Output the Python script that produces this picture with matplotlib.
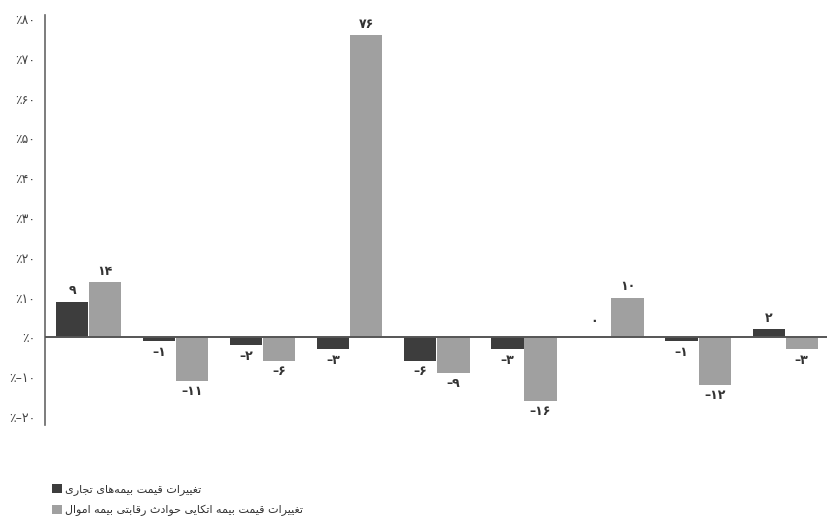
import unicodedata
import numpy as np
import matplotlib
matplotlib.use("Agg")
import matplotlib.pyplot as plt

# ---- data ----
groups = list(range(9))
commercial = [9, -1, -2, -3, -6, -3, 0, -1, 2]
property_ins = [14, -11, -6, 76, -9, -16, 10, -12, -3]
yticks = [-20, -10, 0, 10, 20, 30, 40, 50, 60, 70, 80]
legend_labels = ["تغییرات قیمت بیمه‌های تجاری",
                 "تغییرات قیمت بیمه اتکایی حوادث رقابتی بیمه اموال"]

FA_DIGITS = str.maketrans("0123456789", "۰۱۲۳۴۵۶۷۸۹")


def fa_num(v):
    s = str(abs(v)).translate(FA_DIGITS)
    return ("–" + s) if v < 0 else s


RIGHT_JOIN = set("اآأإدذرزژوؤة")


def is_letter(c):
    return "\u0620" <= c <= "\u06FF" and unicodedata.category(c) == "Lo"


def shape(text):
    out = []
    chars = list(text)
    n = len(chars)
    for i, c in enumerate(chars):
        if c == "\u200c":
            continue
        if not is_letter(c):
            out.append(c)
            continue
        prev = chars[i - 1] if i > 0 else None
        nxt = chars[i + 1] if i < n - 1 else None
        jp = prev is not None and is_letter(prev) and prev not in RIGHT_JOIN
        jn = c not in RIGHT_JOIN and nxt is not None and is_letter(nxt)
        form = {(True, True): "MEDIAL", (True, False): "FINAL",
                (False, True): "INITIAL", (False, False): "ISOLATED"}[(jp, jn)]
        name = unicodedata.name(c)
        try:
            out.append(unicodedata.lookup(f"{name} {form} FORM"))
        except KeyError:
            try:
                out.append(unicodedata.lookup(f"{name} ISOLATED FORM"))
            except KeyError:
                out.append(c)
    return "".join(reversed(out))


plt.rcParams["font.family"] = ["DejaVu Sans"]

fig = plt.figure(figsize=(8.27, 5.2), dpi=100)
ax = fig.add_axes([45 / 827, 1 - 425 / 520, 1 - 45 / 827, 410 / 520])

x = np.array(groups, dtype=float)
w = 0.37
dark = "#3d3d3d"
light = "#a0a0a0"
b1 = ax.bar(x - w / 2 - 0.005, commercial, w, color=dark, label=shape(legend_labels[0]))
b2 = ax.bar(x + w / 2 + 0.005, property_ins, w, color=light, label=shape(legend_labels[1]))

for bars, vals in ((b1, commercial), (b2, property_ins)):
    for rect, v in zip(bars, vals):
        cx = rect.get_x() + rect.get_width() / 2
        if v > 0:
            off, va = (0, 3), "bottom"
        elif v < 0:
            off, va = (0, -3), "top"
        else:
            off, va = (0, 7), "bottom"
        ax.annotate(fa_num(v), (cx, v), xytext=off, textcoords="offset points",
                    ha="center", va=va, fontsize=9, color="#333333", fontweight="bold")

ax.axhline(0, color="#555555", lw=1.4, zorder=3)
ax.set_xlim(-0.5, 8.48)
ax.set_ylim(-22, 81)
ax.set_yticks(yticks)
ax.set_yticklabels(["٪" + fa_num(t) for t in yticks], fontsize=9, color="#444444")
ax.tick_params(axis="y", length=0, pad=7)
ax.set_xticks([])
for s in ("top", "right", "bottom"):
    ax.spines[s].set_visible(False)
ax.spines["left"].set_color("#666666")
ax.spines["left"].set_linewidth(1.2)

fig.legend(handles=[b1, b2], loc="upper left", bbox_to_anchor=(42 / 827, 1 - 474 / 520),
           frameon=False, fontsize=8, handlelength=0.9, handleheight=0.9,
           handletextpad=0.3, labelspacing=0.85, labelcolor="#333333")

fig.savefig("out.png", dpi=100, facecolor="white")
